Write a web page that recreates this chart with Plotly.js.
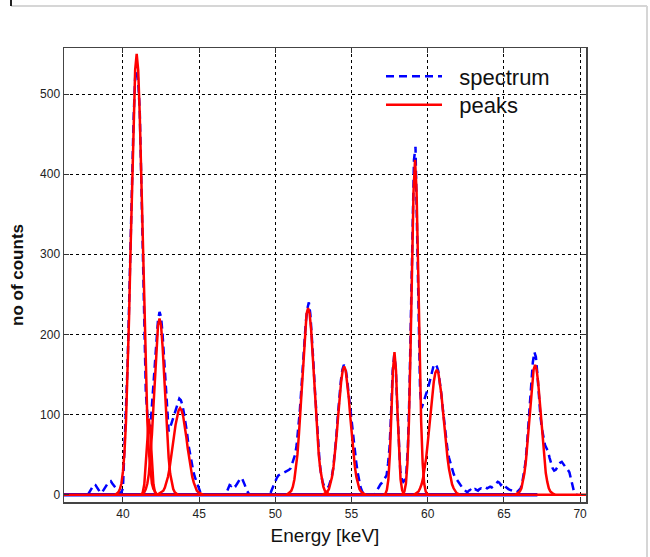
<!DOCTYPE html>
<html>
<head>
<meta charset="utf-8">
<script src="https://cdn.plot.ly/plotly-3.0.1.min.js"></script>
<style>html,body{margin:0;padding:0;background:#fff;}#chart{width:650px;height:557px;}</style>
</head>
<body>
<div id="chart"></div>
<script>
// Measured spectrum: counts per 0.1 keV channel, starting at 37.7 keV
var spectrumStart = 37.7;
var channelWidth = 0.1;
var spectrumCounts = [
  0,3,7,10,13,12,9,6,3,2, 5,9,12,14,16,17,14,11,9,8, 5,2,3,8,
  60,100,160,235,320,405,470,520,538,515, 480,395,300,215,128,100,88,84,110,135,
  165,195,218,228,222,200,170,135,100,79, 84,90,96,103,110,116,120,118,112,102,
  92,78,62,50,40,31,23,17,12,6, 2,0,0,0,0,0,0,0,0,0,
  0,0,0,0,0,0,0,3,8,12, 11,14,13,11,14,17,20,21,17,12,
  6,2,0,0,0,0,0,0,0,0, 0,0,0,0,0,0,3,8,12,17,
  21,24,25,26,27,27,29,30,31,33, 38,44,50,62,80,103,130,160,190,215,
  232,240,225,200,165,130,95,65,42,26, 16,11,9,8,10,15,22,33,50,72,
  98,122,142,156,162,158,146,128,110,90, 80,60,42,28,16,9,4,1,0,0,
  0,0,0,0,0,3,7,10,13,15, 18,20,24,39,60,103,154,174,160,112,
  62,30,20,16,18,28,60,125,225,335, 418,434,345,230,130,108,115,120,126,131,
  138,147,155,162,163,160,154,142,125,106, 88,70,56,46,38,32,26,22,19,16,
  14,11,8,6,4,3,5,6,4,6, 7,6,5,7,8,7,8,9,8,9,
  10,9,11,12,14,16,15,12,14,13, 10,8,7,6,5,4,3,3,4,6,
  8,14,24,38,58,84,112,140,165,178, 172,150,122,98,82,70,62,58,54,46,
  38,33,30,31,34,38,40,41,38,35, 33,31,28,20,10,4,1,0
];

// Baselines (zero level)
var baselineEnergy = [36.0, 71.0];
var baselineCounts = [0, 0];
var backgroundEnergy = [36.0, 67.2];
var backgroundCounts = [0, 0];

// Fitted peaks: start energy of each curve (keV), sampled every 0.1 keV
var peakStarts = [39.5, 41.2, 41.2, 42.25, 50.75, 53.12, 57.12, 58.27, 59.1, 65.75];
var peak1  = [0,1,3,7,14,29,53,92,148,221,307,396,475,530,550,530,475,396,307,221,148,92,53,29,14,7,3,1,0];
var peak2  = [0,3,13,39,76,95,76,39,13,3,0];
var peak3  = [0,1,3,7,14,26,46,75,110,149,185,211,220,211,185,149,110,75,46,26,14,7,3,1,0];
var peak4  = [0,1,2,3,5,9,15,22,32,44,58,73,87,98,105,108,105,98,87,73,58,44,32,22,15,9,5,3,2,1,0];
var peak5  = [0,1,3,5,10,19,32,50,76,107,141,176,206,226,233,226,206,176,141,107,76,50,32,19,10,5,3,1,0];
var peak6  = [0,1,2,4,7,13,22,35,52,73,97,121,141,155,160,155,141,121,97,73,52,35,22,13,7,4,2,1,0];
var peak7  = [0,1,6,19,51,102,155,178,155,102,51,19,6,1,0];
var peak8  = [0,1,4,14,39,92,178,285,378,418,378,285,178,92,39,14,4,1,0];
var peak9  = [0,1,2,4,8,13,21,32,46,64,84,105,125,141,152,156,152,141,125,105,84,64,46,32,21,13,8,4,2,1,0];
var peak10 = [0,1,2,4,8,16,27,43,65,90,117,140,156,162,156,140,117,90,65,43,27,16,8,4,2,1,0];
var peakCurves = [peak1, peak2, peak3, peak4, peak5, peak6, peak7, peak8, peak9, peak10];

var xTickValues = [40, 45, 50, 55, 60, 65, 70];
var yTickValues = [0, 100, 200, 300, 400, 500];
var seriesNames = ['spectrum', 'peaks'];

var FONT = 'Liberation Sans, Arial, sans-serif';
var BLUE = '#0000ff';
var RED = '#ff0000';
var GAP = '\u00a0\u00a0';

var traces = [];
traces.push({
  x: backgroundEnergy, y: backgroundCounts, type: 'scatter', mode: 'lines',
  line: {color: BLUE, width: 3.5}, showlegend: false, hoverinfo: 'skip'
});
traces.push({
  x0: spectrumStart, dx: channelWidth, y: spectrumCounts, type: 'scatter', mode: 'lines',
  name: GAP + seriesNames[0], legend: 'legend',
  line: {color: BLUE, width: 2.5, dash: '8px,5px'}
});
traces.push({
  x: baselineEnergy, y: baselineCounts, type: 'scatter', mode: 'lines',
  name: GAP + seriesNames[1], legendgroup: 'peaks', legend: 'legend2',
  line: {color: RED, width: 2.5}
});
peakCurves.forEach(function (vals, i) {
  traces.push({
    x0: peakStarts[i], dx: channelWidth, y: vals, type: 'scatter', mode: 'lines',
    name: seriesNames[1], legendgroup: 'peaks', legend: 'legend2', showlegend: false,
    line: {color: RED, width: 2.5}
  });
});

// plot-area pixel box, for placing legend and window frame lines
var L = 64, R = 586, T = 48, B = 502;
function px(xp) { return (xp - L) / (R - L); }
function py(yp) { return (B - yp) / (B - T); }

var legendStyle = function (topPx) {
  return {
    x: px(381), y: py(topPx), xanchor: 'left', yanchor: 'top',
    bgcolor: 'rgba(0,0,0,0)', borderwidth: 0,
    font: {family: FONT, size: 22, color: '#111'},
    itemwidth: 56
  };
};

var layout = {
  width: 650, height: 557,
  margin: {l: L, r: 650 - R, t: T, b: 557 - B, pad: 0},
  paper_bgcolor: '#ffffff', plot_bgcolor: '#ffffff',
  font: {family: FONT, color: '#222'},
  showlegend: true,
  legend: legendStyle(55.5),
  legend2: legendStyle(84),
  xaxis: {
    range: [36.13, 70.39], tickmode: 'array', tickvals: xTickValues,
    showgrid: true, gridcolor: '#000', griddash: 'dot', gridwidth: 1,
    zeroline: false, showline: true, linecolor: '#444', linewidth: 1.5, mirror: 'ticks',
    ticks: 'inside', ticklen: 5, tickcolor: '#333', tickwidth: 1,
    tickfont: {family: FONT, size: 12, color: '#222'},
    title: {text: 'Energy [keV]', font: {family: FONT, size: 19, color: '#111'}, standoff: 9},
    automargin: false
  },
  yaxis: {
    range: [-9.1, 557.4], tickmode: 'array', tickvals: yTickValues,
    showgrid: true, gridcolor: '#000', griddash: 'dot', gridwidth: 1,
    zeroline: false, showline: true, linecolor: '#444', linewidth: 1.5, mirror: 'ticks',
    ticks: 'inside', ticklen: 5, tickcolor: '#333', tickwidth: 1,
    tickfont: {family: FONT, size: 12, color: '#222'},
    title: {text: '<b>no of counts</b>', font: {family: FONT, size: 17, color: '#111'}, standoff: 12},
    automargin: false
  },
  shapes: [
    {type: 'line', xref: 'paper', yref: 'paper', x0: px(11), x1: px(647), y0: py(6), y1: py(6),
     line: {color: '#d6d6d6', width: 2}, layer: 'above'},
    {type: 'line', xref: 'paper', yref: 'paper', x0: px(11), x1: px(11), y0: py(0), y1: py(6),
     line: {color: '#222', width: 2}, layer: 'above'},
    {type: 'line', xref: 'paper', yref: 'paper', x0: px(647), x1: px(647), y0: py(6), y1: py(557),
     line: {color: '#d6d6d6', width: 2}, layer: 'above'}
  ]
};

Plotly.newPlot('chart', traces, layout, {displayModeBar: false, staticPlot: true});
</script>
</body>
</html>
